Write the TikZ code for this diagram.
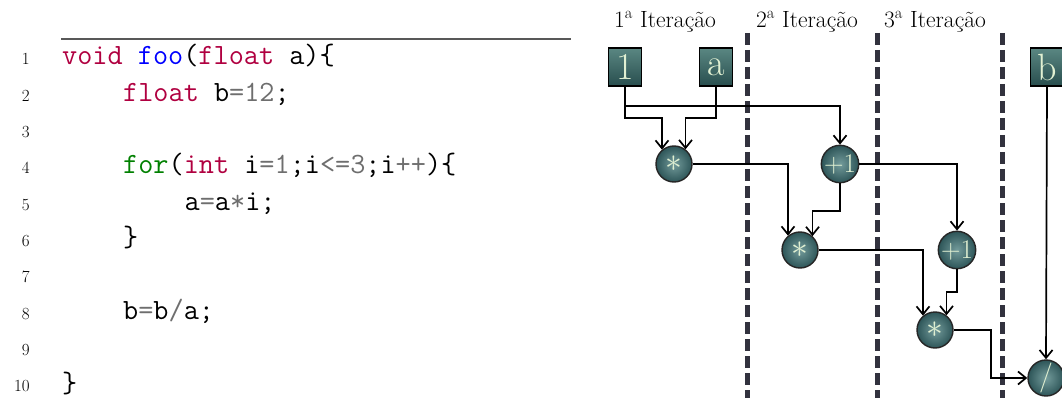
\documentclass[tikz,border=0pt]{standalone}
\usepackage{fontspec}
\usepackage{graphicx}
\usetikzlibrary{arrows.meta}
\definecolor{kwc}{RGB}{176,0,64}
\definecolor{fnc}{RGB}{0,0,255}
\definecolor{ctc}{RGB}{0,128,0}
\definecolor{opc}{RGB}{110,110,110}
\definecolor{tealtop}{RGB}{90,135,130}
\definecolor{tealbot}{RGB}{40,78,78}
\definecolor{ballin}{RGB}{115,155,155}
\definecolor{ballout}{RGB}{45,85,88}
\definecolor{glyphc}{RGB}{225,240,210}
\definecolor{dashc}{RGB}{50,50,62}
\newcommand\cKw[1]{\textcolor{kwc}{#1}}
\newcommand\cFn[1]{\textcolor{fnc}{#1}}
\newcommand\cCt[1]{\textcolor{ctc}{#1}}
\newcommand\cOp[1]{\textcolor{opc}{#1}}
\newcommand\bigstarop{\scalebox{1.35}{$\ast$}}
\tikzset{
  codeline/.style={anchor=base west, inner sep=0pt, font=\fontsize{29.4}{30}\selectfont\ttfamily},
  lnum/.style={anchor=base east, inner sep=0pt, font=\fontsize{17}{19}\selectfont},
  iterlabel/.style={anchor=base, inner sep=0pt, font=\fontsize{23.5}{25}\selectfont},
  valbox/.style={draw=black, line width=1.8pt, shading=axis, top color=tealtop, bottom color=tealbot,
    minimum width=33pt, minimum height=38pt, inner sep=0pt, text=glyphc,
    font=\fontsize{38}{38}\selectfont},
  opnode/.style={circle, draw=black!85, line width=1.4pt, inner color=ballin, outer color=ballout,
    minimum size=36pt, inner sep=0pt, text=glyphc, font=\fontsize{27}{27}\selectfont},
  iterline/.style={dashc, line width=5pt, dash pattern=on 12pt off 5pt},
  flow/.style={black, line width=1.7pt, -{Straight Barb[length=8pt,width=13pt,line width=1.7pt]}},
}
\begin{document}
\begin{tikzpicture}[x=1pt,y=-1pt]
\useasboundingbox (0,0) rectangle (1062,398);
% code listing
\draw[opc!80!black, line width=1.2pt] (61,39) -- (571,39);
\foreach \i in {1,...,10} \node[lnum] (ln\i) at (30,{65+36.33*(\i-1)}) {\i};
\node[codeline] (code1) at (62,65) {\cKw{void} \cFn{foo}(\cKw{float} a)\{};
\node[codeline] (code2) at (123,101.33) {\cKw{float} b\cOp{=}\cOp{12};};
\node[codeline] (code4) at (123,174) {\cCt{for}(\cKw{int} i\cOp{=}\cOp{1};i\cOp{<=}\cOp{3};i\cOp{++})\{};
\node[codeline] (code5) at (184.5,210.33) {a\cOp{=}a\cOp{*}i;};
\node[codeline] (code6) at (123,246.67) {\}};
\node[codeline] (code8) at (123,319.33) {b\cOp{=}b\cOp{/}a;};
\node[codeline] (code10) at (62,392) {\}};
% iteration labels and separators
\node[iterlabel] (it1) at (665,28) {1\textsuperscript{a} Iteração};
\node[iterlabel] (it2) at (807,28) {2\textsuperscript{a} Iteração};
\node[iterlabel] (it3) at (935,28) {3\textsuperscript{a} Iteração};
\draw[iterline] (747,33) -- (747,398);
\draw[iterline] (877,33) -- (877,398);
\draw[iterline] (1002,33) -- (1002,398);
% nodes
\node[valbox] (n1) at (625,67) {1};
\node[valbox] (na) at (716,67) {a};
\node[valbox] (nb) at (1047,67) {b};
\node[opnode] (m1) at (674,164) {\bigstarop};
\node[opnode] (p1) at (840,164) {+1};
\node[opnode] (m2) at (800,250) {\bigstarop};
\node[opnode] (p2) at (957,250) {+1};
\node[opnode] (m3) at (935,330) {\bigstarop};
\node[opnode, font=\fontsize{30}{30}\selectfont] (dv) at (1046,378) {/};
% waypoints
\coordinate (y106) at (0,106);
\coordinate (y118) at (0,118);
\coordinate (y211) at (0,211);
\coordinate (y292) at (0,292);
\coordinate (c991) at (991,378);
% connectors
\draw[flow] (n1.south) |- (p1.north |- y106) -- (p1.north);
\draw[flow] (n1.south) |- (m1.130 |- y118) -- (m1.130);
\draw[flow] (na.south) |- (m1.52 |- y118) -- (m1.52);
\draw[flow] (m1.east) -| (m2.130);
\draw[flow] (p1.south) |- (m2.48 |- y211) -- (m2.48);
\draw[flow] (p1.east) -| (p2.north);
\draw[flow] (m2.east) -| (m3.130);
\draw[flow] (p2.south) |- (m3.52 |- y292) -- (m3.52);
\draw[flow] (m3.east) -| (c991) -- (dv.west);
\draw[flow] (nb.south) -- (dv.north);
\end{tikzpicture}
\end{document}
